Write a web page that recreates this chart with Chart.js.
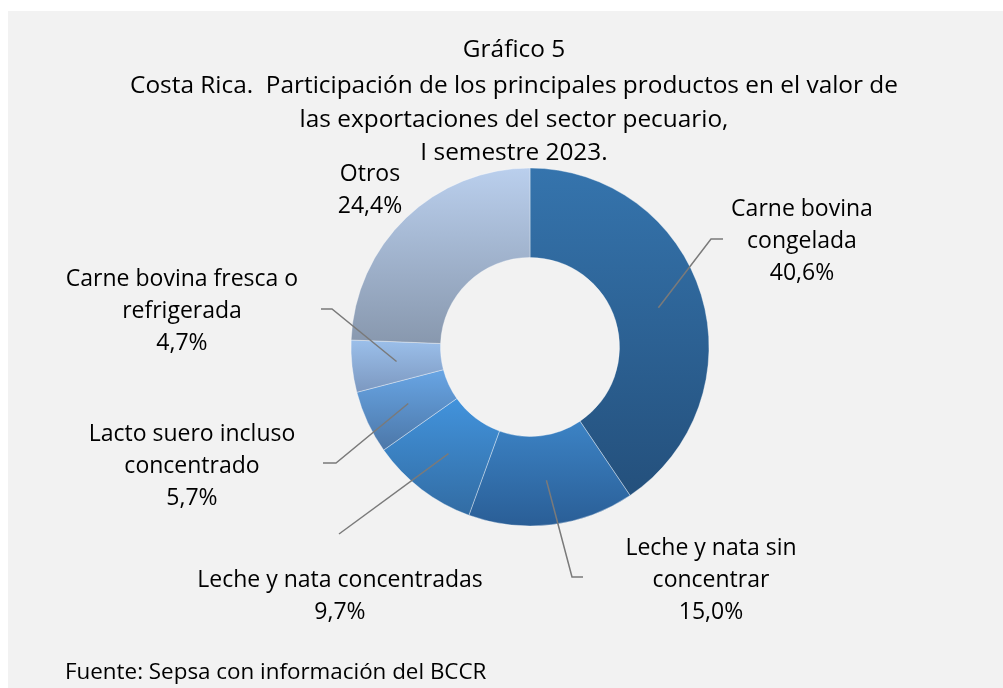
<!DOCTYPE html>
<html lang="es">
<head>
<meta charset="utf-8">
<title>Gráfico 5</title>
<script src="https://cdn.jsdelivr.net/npm/chart.js@4/dist/chart.umd.min.js"></script>
<style>
    html, body { margin: 0; padding: 0; background: #fff; }
    body { width: 1003px; height: 688px; position: relative; overflow: hidden; }
    .box { position: absolute; left: 8px; top: 11px; right: 0; bottom: 0; background: #f2f2f2; }
    #exports { position: absolute; left: 0; top: 0; }
</style>
</head>
<body>
<div class="box"></div>
<canvas id="exports" width="1003" height="688"></canvas>
<script>
const categories = [
    ['Carne bovina', 'congelada'],
    ['Leche y nata sin', 'concentrar'],
    ['Leche y nata concentradas'],
    ['Lacto suero incluso', 'concentrado'],
    ['Carne bovina fresca o', 'refrigerada'],
    ['Otros']
];
const shares = [40.6, 15.0, 9.7, 5.7, 4.7, 24.4];

const colorTop = ['#3574ad', '#3c83c5', '#4293dc', '#68a5e4', '#9bbfea', '#bacfed'];
const colorBottom = ['#24507c', '#2a5e96', '#326ca3', '#4c77a8', '#7c98c0', '#8898ae'];

const titleLines = [
    'Gráfico 5',
    'Costa Rica.  Participación de los principales productos en el valor de',
    'las exportaciones del sector pecuario,',
    'I semestre 2023.'
];
const sourceNote = 'Fuente: Sepsa con información del BCCR';

const FAMILY = '"Open Sans", Lato, sans-serif';

// where each label sits (x centre, first baseline) and the bend of its leader
const labelBoxes = [
    { x: 802, y: 216, leader: [[711, 239], [723, 239]] },
    { x: 711, y: 555, leader: [[572, 577], [583, 577]] },
    { x: 340, y: 587, leader: [[339, 534]] },
    { x: 192, y: 441, leader: [[336, 463], [323, 463]] },
    { x: 182, y: 286, leader: [[332, 309], [321, 309]] },
    { x: 370, y: 181, leader: null }
];

function pct(v) {
    return v.toFixed(1).replace('.', ',') + '%';
}

// Excel-like vertical gradient over each slice's own bounding box
const sliceGradients = {
    id: 'sliceGradients',
    beforeDatasetsDraw(chart) {
        const ctx = chart.ctx;
        chart.getDatasetMeta(0).data.forEach((arc, i) => {
            const p = arc.getProps(['x', 'y', 'startAngle', 'endAngle', 'innerRadius', 'outerRadius']);
            let top = Infinity, bottom = -Infinity;
            for (let k = 0; k <= 60; k++) {
                const a = p.startAngle + (p.endAngle - p.startAngle) * k / 60;
                [p.innerRadius, p.outerRadius].forEach(r => {
                    const y = p.y + r * Math.sin(a);
                    top = Math.min(top, y);
                    bottom = Math.max(bottom, y);
                });
            }
            const g = ctx.createLinearGradient(0, top, 0, bottom);
            g.addColorStop(0, colorTop[i]);
            g.addColorStop(1, colorBottom[i]);
            arc.options.backgroundColor = g;
        });
    }
};

const textLayer = {
    id: 'textLayer',
    afterDraw(chart) {
        const ctx = chart.ctx;
        ctx.save();
        ctx.fillStyle = '#000';
        ctx.textAlign = 'center';
        ctx.textBaseline = 'alphabetic';

        // title
        ctx.font = '24.4px ' + FAMILY;
        const titleY = [57, 93, 127, 160];
        titleLines.forEach((t, i) => ctx.fillText(t, 514, titleY[i]));

        // data labels with leader lines
        ctx.font = '23px ' + FAMILY;
        const arcs = chart.getDatasetMeta(0).data;
        arcs.forEach((arc, i) => {
            const box = labelBoxes[i];
            if (box.leader) {
                const start = arc.tooltipPosition();
                ctx.beginPath();
                ctx.moveTo(start.x, start.y);
                box.leader.forEach(pt => ctx.lineTo(pt[0], pt[1]));
                ctx.strokeStyle = '#7a7a7a';
                ctx.lineWidth = 1.5;
                ctx.stroke();
            }
            const lines = categories[i].concat([pct(shares[i])]);
            lines.forEach((t, j) => ctx.fillText(t, box.x, box.y + j * 32));
        });

        // source
        ctx.textAlign = 'left';
        ctx.font = '22.4px ' + FAMILY;
        ctx.fillText(sourceNote, 65, 679);
        ctx.restore();
    }
};

const canvas = document.getElementById('exports');

new Chart(canvas, {
    type: 'doughnut',
    data: {
        labels: categories,
        datasets: [{
            data: shares,
            backgroundColor: colorTop,
            borderColor: 'rgba(255,255,255,0.45)',
            borderWidth: 0.8
        }]
    },
    options: {
        responsive: false,
        animation: false,
        radius: 179,
        cutout: '50%',
        layout: {
            padding: { left: 330, right: 273, top: 147, bottom: 141 }
        },
        plugins: {
            legend: { display: false },
            tooltip: { enabled: false },
            title: { display: false }
        }
    },
    plugins: [sliceGradients, textLayer]
});
</script>
</body>
</html>
